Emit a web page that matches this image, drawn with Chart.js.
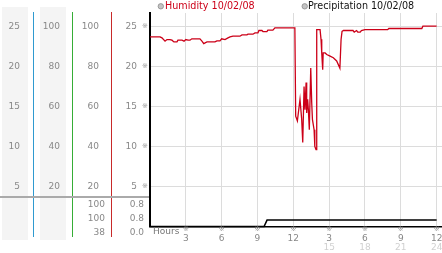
<!DOCTYPE html>
<html>
<head>
<meta charset="utf-8">
<script src="https://cdn.jsdelivr.net/npm/chart.js@4.4.1/dist/chart.umd.min.js"></script>
<style>
  html, body { margin: 0; padding: 0; background: #fff; overflow: hidden; }
</style>
</head>
<body>
<canvas id="chart" width="442" height="253"></canvas>
<script>
// Data
const humHours = [0, 0.84, 1.0, 1.26, 1.42, 1.67, 1.84, 2.0, 2.26, 2.34, 2.68, 2.85, 3.0, 3.18, 3.35, 3.5, 4.18, 4.35, 4.5, 4.77, 5.44, 5.6, 5.86, 6.0, 6.28,
  6.53, 6.7, 6.95, 7.53, 7.7, 8.12, 8.2, 8.62, 8.79, 9.04, 9.12, 9.37, 9.46, 9.79, 9.87, 10.29, 10.46, 12.13,
  12.2, 12.34, 12.56, 12.7, 12.79, 12.9, 12.98, 13.07, 13.12, 13.2, 13.26, 13.34, 13.46, 13.54, 13.6, 13.74, 13.8, 13.9,
  13.96, 14.24, 14.32, 14.38, 14.46, 14.5, 14.66, 14.8, 15.08, 15.35, 15.63, 15.9,
  16.0, 16.08, 16.2, 17.0, 17.1, 17.3, 17.4, 17.6, 17.7, 18.0, 19.9, 20.0, 22.76, 22.85, 24.0];
const humidity = [23.71, 23.71, 23.58, 23.17, 23.37, 23.37, 23.29, 23.08, 23.08, 23.29, 23.29, 23.17, 23.37, 23.29, 23.29, 23.46, 23.46, 23.17, 22.87, 23.08, 23.08, 23.21, 23.21, 23.46, 23.37,
  23.58, 23.71, 23.79, 23.79, 23.96, 23.96, 24.04, 24.04, 24.21, 24.21, 24.5, 24.5, 24.37, 24.37, 24.54, 24.54, 24.83, 24.83,
  13.8, 13.2, 15.9, 13.4, 10.5, 17.5, 14.6, 18.0, 14.2, 15.9, 14.6, 12.1, 19.8, 15.5, 13.4, 12.1, 10.0, 9.6,
  24.6, 24.6, 23.4, 21.7, 19.6, 21.7, 21.7, 21.5, 21.3, 21.1, 20.7, 19.8,
  23.4, 24.4, 24.5, 24.5, 24.3, 24.5, 24.3, 24.3, 24.5, 24.6, 24.6, 24.75, 24.75, 25.04, 25.04];
const precHours = [0, 9.55, 9.8, 24.0];
const precipitation = [0, 0, 0.8, 0.8];

const hourTicks = [0, 3, 6, 9, 12, 15, 18, 21, 24];
const hourLabels = ['', '3', '6', '9', '12', '3', '6', '9', '12'];
const hourLabels2 = ['', '', '', '', '', '15', '18', '21', '24'];
const valueTicks = [5, 10, 15, 20, 25];
const pctLabels = ['20', '40', '60', '80', '100'];
const summaryA = ['100', '100', '38'];
const summaryB = ['0.8', '0.8', '0.0'];

const RED = '#cc0018';
const FONT = '"DejaVu Sans", sans-serif';

// Side panel, legend and tick labels
const panelPlugin = {
  id: 'panel',
  beforeDraw(chart) {
    const ctx = chart.ctx;
    ctx.save();
    ctx.fillStyle = '#f4f4f4';
    ctx.fillRect(2, 7, 26, 233);
    ctx.fillRect(40, 7, 26, 233);
    ctx.restore();
  },
  afterDraw(chart) {
    const ctx = chart.ctx;
    const ys = chart.scales.y;
    const xs = chart.scales.x;
    ctx.save();

    // column lines
    [[33.5, '#2f9ad0'], [72.5, '#36ad36'], [111.5, '#c82a2a']].forEach(([x, c]) => {
      ctx.strokeStyle = c;
      ctx.lineWidth = 1;
      ctx.beginPath();
      ctx.moveTo(x, 12);
      ctx.lineTo(x, 237);
      ctx.stroke();
    });
    ctx.fillStyle = '#aaaaaa';
    ctx.fillRect(0, 196, 149, 2);

    // y labels
    ctx.textBaseline = 'middle';
    valueTicks.forEach((v, i) => {
      const py = ys.getPixelForValue(v);
      ctx.font = '9px ' + FONT;
      ctx.fillStyle = '#888';
      ctx.textAlign = 'right';
      ctx.fillText(String(v), 20, py);
      ctx.fillText(pctLabels[i], 60, py);
      ctx.fillText(pctLabels[i], 99, py);
      ctx.fillText(String(v), 137, py);
      ctx.font = '7px ' + FONT;
      ctx.fillStyle = '#999';
      ctx.textAlign = 'center';
      ctx.fillText('\u203B', 145, py);
    });

    // summary rows
    ctx.font = '9px ' + FONT;
    ctx.fillStyle = '#888';
    ctx.textAlign = 'right';
    [205, 219, 233].forEach((ry, i) => {
      ctx.fillText(summaryA[i], 105, ry);
      ctx.fillText(summaryB[i], 144, ry);
    });

    // x labels
    ctx.textAlign = 'left';
    ctx.fillStyle = '#777';
    ctx.fillText('Hours', 153, 232);
    ctx.textAlign = 'center';
    hourTicks.forEach((h, i) => {
      if (!hourLabels[i]) return;
      const px = xs.getPixelForValue(h);
      ctx.font = '7px ' + FONT;
      ctx.fillStyle = '#999';
      ctx.fillText('\u203B', px, 229.5);
      ctx.font = '9px ' + FONT;
      ctx.fillStyle = '#888';
      ctx.fillText(hourLabels[i], px, 239);
      if (hourLabels2[i]) {
        ctx.fillStyle = '#d0d0d0';
        ctx.fillText(hourLabels2[i], px, 247.5);
      }
    });

    // legend
    const items = [[160.8, 165, 'Humidity 10/02/08', RED], [304.7, 308, 'Precipitation 10/02/08', '#111']];
    ctx.font = '9.6px ' + FONT;
    ctx.textAlign = 'left';
    items.forEach(([cx, tx, label, col]) => {
      ctx.beginPath();
      ctx.arc(cx, 6.3, 2.7, 0, Math.PI * 2);
      ctx.fillStyle = '#c4c4c4';
      ctx.fill();
      ctx.strokeStyle = '#8c8c8c';
      ctx.lineWidth = 0.8;
      ctx.stroke();
      ctx.fillStyle = col;
      ctx.fillText(label, tx, 6.5);
    });
    ctx.restore();
  }
};

new Chart(document.getElementById('chart'), {
  type: 'line',
  data: {
    datasets: [
      {
        label: 'Humidity 10/02/08',
        data: humHours.map((h, i) => ({ x: h, y: humidity[i] })),
        borderColor: RED,
        borderWidth: 1.3,
        pointRadius: 0,
        tension: 0,
        clip: 4
      },
      {
        label: 'Precipitation 10/02/08',
        data: precHours.map((h, i) => ({ x: h, y: precipitation[i] })),
        borderColor: '#000',
        borderWidth: 1.5,
        pointRadius: 0,
        tension: 0,
        clip: 4
      }
    ]
  },
  options: {
    responsive: false,
    animation: false,
    events: [],
    layout: { padding: { left: 150, top: 13, right: 0, bottom: 26.5 } },
    plugins: { legend: { display: false }, tooltip: { enabled: false } },
    scales: {
      x: {
        type: 'linear',
        min: 0,
        max: 24.45,
        afterBuildTicks: s => { s.ticks = hourTicks.map(v => ({ value: v })); },
        ticks: { display: false },
        grid: { color: '#dcdcdc', lineWidth: 1, drawTicks: false },
        border: { color: '#000', width: 1.5 }
      },
      y: {
        type: 'linear',
        min: 0,
        max: 26.69,
        afterBuildTicks: s => { s.ticks = [0].concat(valueTicks).map(v => ({ value: v })); },
        ticks: { display: false },
        grid: { color: '#dcdcdc', lineWidth: 1, drawTicks: false },
        border: { color: '#000', width: 2 }
      }
    }
  },
  plugins: [panelPlugin]
});
</script>
</body>
</html>
